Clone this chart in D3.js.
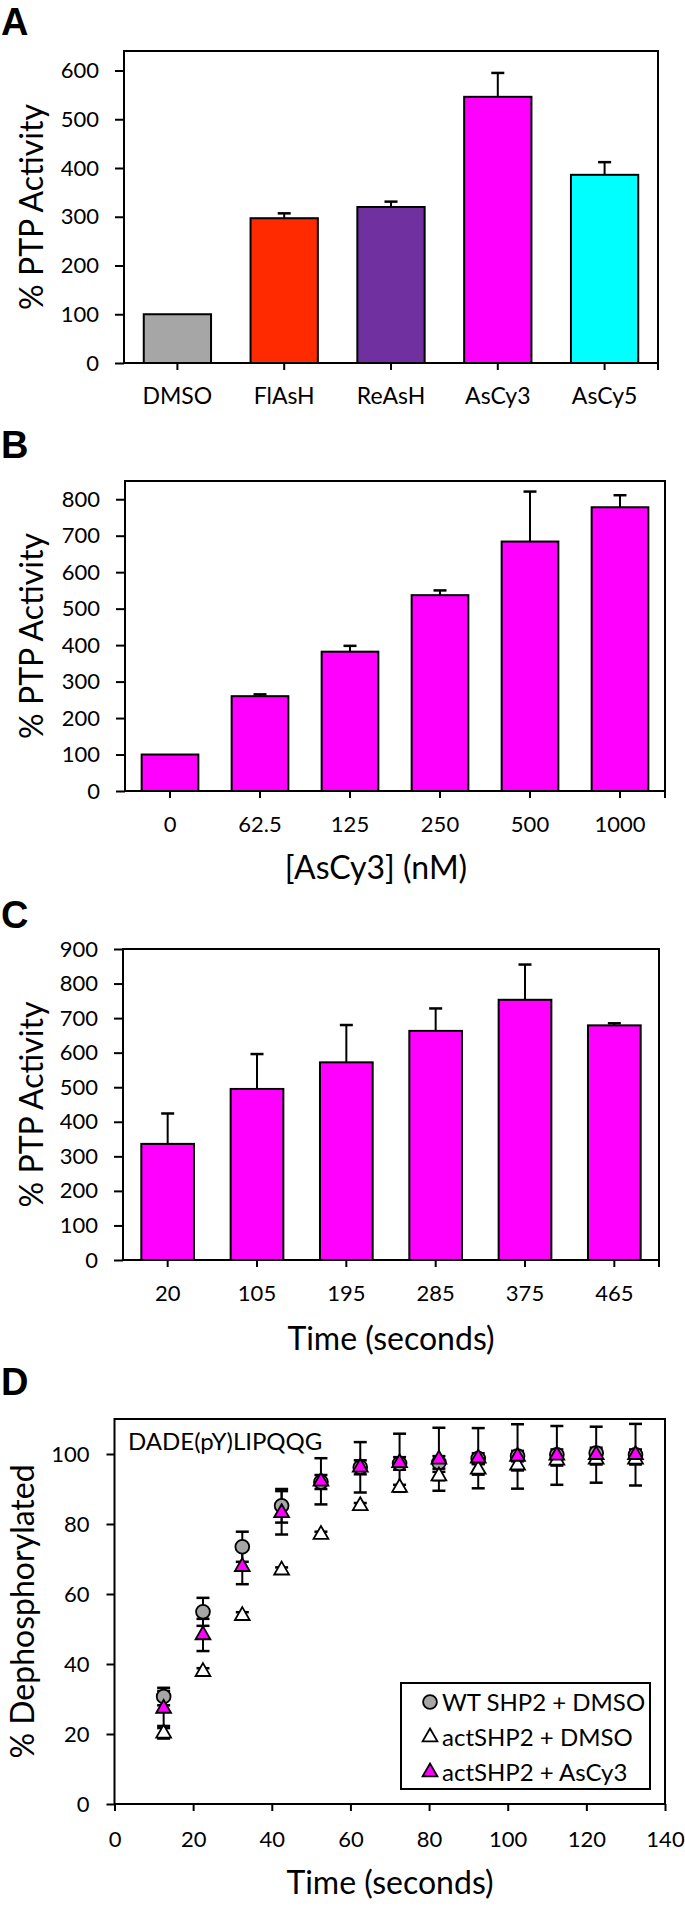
<!DOCTYPE html>
<html>
<head>
<meta charset="utf-8">
<script src="https://cdnjs.cloudflare.com/ajax/libs/d3/7.8.5/d3.min.js"></script>
<style>
  body { margin: 0; background: #fff; }
  svg { display: block; font-family: Lato, "Open Sans", sans-serif; }
  .tick text { fill: #000; }
</style>
</head>
<body>
<script>
// ---- data ----
var panelACategories = ["DMSO", "FlAsH", "ReAsH", "AsCy3", "AsCy5"];
var panelAValues = [100, 297, 320, 546, 386];
var panelAErrors = [0, 10, 11, 49, 26];
var panelATicks = [0, 100, 200, 300, 400, 500, 600];

var panelBCategories = ["0", "62.5", "125", "250", "500", "1000"];
var panelBValues = [100, 260, 382, 537, 684, 778];
var panelBErrors = [0, 5, 16, 13, 137, 33];
var panelBTicks = [0, 100, 200, 300, 400, 500, 600, 700, 800];

var panelCCategories = ["20", "105", "195", "285", "375", "465"];
var panelCValues = [336, 495, 572, 663, 753, 679];
var panelCErrors = [88, 101, 108, 65, 102, 6];
var panelCTicks = [0, 100, 200, 300, 400, 500, 600, 700, 800, 900];

var timePoints = [12.5, 22.5, 32.5, 42.5, 52.5, 62.5, 72.5, 82.5, 92.5, 102.5, 112.5, 122.5, 132.5];
var wtDmsoValues = [30.7, 54.9, 73.5, 85.2, 92.0, 96.2, 97.3, 97.6, 98.7, 99.4, 99.8, 100.3, 99.8];
var wtDmsoErrors = [2.5, 4.0, 4.3, 4.8, 2.0, 2.0, 1.8, 1.8, 1.5, 1.5, 1.5, 1.5, 1.5];
var actDmsoValues = [20.2, 37.8, 53.8, 66.8, 77.0, 85.2, 90.4, 93.7, 95.6, 96.8, 98.2, 98.5, 98.5];
var actDmsoErrors = [1.5, 1.0, 1.0, 0.8, 0.8, 0.8, 0.8, 1.2, 1.5, 1.5, 1.5, 1.5, 1.5];
var actAsCy3Values = [27.3, 48.3, 67.8, 83.2, 92.2, 96.2, 97.5, 98.5, 98.8, 99.3, 99.6, 99.8, 99.8];
var actAsCy3Errors = [5.0, 4.6, 5.0, 6.2, 6.6, 7.2, 8.3, 9.0, 8.6, 9.2, 8.4, 8.0, 8.8];
var panelDXTicks = [0, 20, 40, 60, 80, 100, 120, 140];
var panelDYTicks = [0, 20, 40, 60, 80, 100];
var legendLabels = ["WT SHP2 + DMSO", "actSHP2 + DMSO", "actSHP2 + AsCy3"];

var barColorsA = ["#a6a6a6", "#ff2a00", "#7030a0", "#ff00ff", "#00ffff"];
var magenta = "#ff00ff";

var svg = d3.select("body").append("svg")
  .attr("width", 685)
  .attr("height", 1907);

function panelLetter(letter, y) {
  svg.append("text")
    .attr("x", 1).attr("y", y)
    .attr("font-family", "'Liberation Sans', Arial, sans-serif")
    .attr("font-weight", "bold")
    .attr("font-size", 38)
    .text(letter);
}

function yTitle(text, x, y) {
  svg.append("text")
    .attr("transform", "translate(" + x + "," + y + ") rotate(-90)")
    .attr("text-anchor", "middle")
    .attr("font-size", 32)
    .text(text);
}

function barPanel(opt) {
  var x = d3.scaleBand().domain(opt.categories).range([opt.left, opt.right]).paddingInner(opt.pad).paddingOuter(opt.pad / 2);
  var y = d3.scaleLinear().domain([0, opt.yMax]).range([opt.bottom, opt.top]);

  // y axis
  var ya = svg.append("g")
    .attr("transform", "translate(" + opt.left + ",0)")
    .call(d3.axisLeft(y).tickValues(opt.ticks).tickSize(9).tickPadding(16).tickSizeOuter(0));
  ya.select(".domain").remove();
  ya.selectAll("line").attr("stroke-width", 2);
  ya.selectAll("text").attr("font-size", 22).attr("font-family", "Lato");

  // x axis
  var xa = svg.append("g")
    .attr("transform", "translate(0," + opt.bottom + ")")
    .call(d3.axisBottom(x).tickSize(7).tickSizeOuter(0));
  xa.select(".domain").remove();
  xa.selectAll("line").attr("stroke-width", 2);
  xa.selectAll("text").attr("font-size", opt.labelSize).attr("font-family", "Lato")
    .attr("y", 41).attr("dy", null);
  svg.append("line")
    .attr("x1", opt.right).attr("x2", opt.right)
    .attr("y1", opt.bottom).attr("y2", opt.bottom + 7)
    .attr("stroke", "#000").attr("stroke-width", 2);

  var rows = opt.categories.map(function(c, i) {
    return { cat: c, value: opt.values[i], err: opt.errors[i], color: opt.colors[i % opt.colors.length] };
  });

  // error bars (upper only)
  var eb = svg.append("g").selectAll("g").data(rows.filter(function(d) { return d.err > 0; }))
    .enter().append("g");
  eb.append("line")
    .attr("x1", function(d) { return x(d.cat) + x.bandwidth() / 2; })
    .attr("x2", function(d) { return x(d.cat) + x.bandwidth() / 2; })
    .attr("y1", function(d) { return y(d.value); })
    .attr("y2", function(d) { return y(d.value + d.err); })
    .attr("stroke", "#000").attr("stroke-width", 2);
  eb.append("line")
    .attr("x1", function(d) { return x(d.cat) + x.bandwidth() / 2 - 6.5; })
    .attr("x2", function(d) { return x(d.cat) + x.bandwidth() / 2 + 6.5; })
    .attr("y1", function(d) { return y(d.value + d.err); })
    .attr("y2", function(d) { return y(d.value + d.err); })
    .attr("stroke", "#000").attr("stroke-width", 2.5);

  svg.append("g").selectAll("rect").data(rows).enter().append("rect")
    .attr("x", function(d) { return x(d.cat); })
    .attr("width", x.bandwidth())
    .attr("y", function(d) { return y(d.value); })
    .attr("height", function(d) { return opt.bottom - y(d.value); })
    .attr("fill", function(d) { return d.color; })
    .attr("stroke", "#000").attr("stroke-width", 2);

  // frame
  svg.append("rect")
    .attr("x", opt.left).attr("y", opt.top)
    .attr("width", opt.right - opt.left).attr("height", opt.bottom - opt.top)
    .attr("fill", "none").attr("stroke", "#000").attr("stroke-width", 2);

  yTitle("% PTP Activity", 43, (opt.top + opt.bottom) / 2);
  if (opt.xTitle) {
    svg.append("text")
      .attr("x", opt.xTitleX).attr("y", opt.xTitleY)
      .attr("text-anchor", "middle").attr("font-size", 32)
      .text(opt.xTitle);
  }
}

// ---- A ----
panelLetter("A", 35);
barPanel({
  categories: panelACategories, values: panelAValues, errors: panelAErrors, colors: barColorsA,
  ticks: panelATicks, yMax: 640, left: 124, right: 658, top: 51, bottom: 363, pad: 0.37, labelSize: 23
});

// ---- B ----
panelLetter("B", 458);
barPanel({
  categories: panelBCategories, values: panelBValues, errors: panelBErrors, colors: [magenta],
  ticks: panelBTicks, yMax: 850, left: 125, right: 665, top: 481, bottom: 791, pad: 0.37, labelSize: 22,
  xTitle: "[AsCy3] (nM)", xTitleX: 376, xTitleY: 879
});

// ---- C ----
panelLetter("C", 928);
barPanel({
  categories: panelCCategories, values: panelCValues, errors: panelCErrors, colors: [magenta],
  ticks: panelCTicks, yMax: 900, left: 123, right: 659, top: 949, bottom: 1260, pad: 0.41, labelSize: 22,
  xTitle: "Time (seconds)", xTitleX: 391, xTitleY: 1350
});

// ---- D ----
panelLetter("D", 1395);
var dLeft = 114.5, dRight = 665, dTop = 1419, dBottom = 1804;
var xD = d3.scaleLinear().domain([0, 140]).range([dLeft, dRight]);
var yD = d3.scaleLinear().domain([0, 110]).range([dBottom, dTop]);

var yaD = svg.append("g").attr("transform", "translate(" + dLeft + ",0)")
  .call(d3.axisLeft(yD).tickValues(panelDYTicks).tickSize(8).tickPadding(17).tickSizeOuter(0));
yaD.select(".domain").remove();
yaD.selectAll("line").attr("stroke-width", 2);
yaD.selectAll("text").attr("font-size", 22).attr("font-family", "Lato");

var xaD = svg.append("g").attr("transform", "translate(0," + dBottom + ")")
  .call(d3.axisBottom(xD).tickValues(panelDXTicks).tickSize(7).tickSizeOuter(0));
xaD.select(".domain").remove();
xaD.selectAll("line").attr("stroke-width", 2);
xaD.selectAll("text").attr("font-size", 22).attr("font-family", "Lato").attr("y", 43).attr("dy", null);

svg.append("rect")
  .attr("x", dLeft).attr("y", dTop)
  .attr("width", dRight - dLeft).attr("height", dBottom - dTop)
  .attr("fill", "none").attr("stroke", "#000").attr("stroke-width", 2);

var series = [
  { name: legendLabels[0], values: wtDmsoValues, errors: wtDmsoErrors, shape: d3.symbolCircle, size: 150, fill: "#a6a6a6" },
  { name: legendLabels[1], values: actDmsoValues, errors: actDmsoErrors, shape: d3.symbolTriangle, size: 95, fill: "#ffffff" },
  { name: legendLabels[2], values: actAsCy3Values, errors: actAsCy3Errors, shape: d3.symbolTriangle, size: 95, fill: magenta }
];

series.forEach(function(s) {
  var pts = timePoints.map(function(t, i) { return { t: t, v: s.values[i], e: s.errors[i] }; });
  var g = svg.append("g");
  g.selectAll(".ev").data(pts).enter().append("line")
    .attr("x1", function(d) { return xD(d.t); }).attr("x2", function(d) { return xD(d.t); })
    .attr("y1", function(d) { return yD(d.v - d.e); }).attr("y2", function(d) { return yD(d.v + d.e); })
    .attr("stroke", "#000").attr("stroke-width", 2);
  [-1, 1].forEach(function(sign) {
    g.selectAll(".ec" + sign).data(pts).enter().append("line")
      .attr("x1", function(d) { return xD(d.t) - 6.5; }).attr("x2", function(d) { return xD(d.t) + 6.5; })
      .attr("y1", function(d) { return yD(d.v + sign * d.e); }).attr("y2", function(d) { return yD(d.v + sign * d.e); })
      .attr("stroke", "#000").attr("stroke-width", 2.5);
  });
});

series.forEach(function(s) {
  var pts = timePoints.map(function(t, i) { return { t: t, v: s.values[i] }; });
  svg.append("g").selectAll("path").data(pts).enter().append("path")
    .attr("d", d3.symbol().type(s.shape).size(s.size))
    .attr("transform", function(d) { return "translate(" + xD(d.t) + "," + yD(d.v) + ")"; })
    .attr("fill", s.fill).attr("stroke", "#000").attr("stroke-width", 1.8);
});

svg.append("text").attr("x", 128).attr("y", 1450).attr("font-size", 24).text("DADE(pY)LIPQQG");

// legend
var legend = svg.append("g");
legend.append("rect").attr("x", 401).attr("y", 1683).attr("width", 249).attr("height", 106)
  .attr("fill", "#fff").attr("stroke", "#000").attr("stroke-width", 2);
series.forEach(function(s, i) {
  var cy = 1702 + i * 35;
  legend.append("path")
    .attr("d", d3.symbol().type(s.shape).size(s.size))
    .attr("transform", "translate(430," + cy + ")")
    .attr("fill", s.fill).attr("stroke", "#000").attr("stroke-width", 1.8);
  legend.append("text").attr("x", 442).attr("y", cy + 8.5).attr("font-size", 24).text(s.name);
});

yTitle("% Dephosphorylated", 34, (dTop + dBottom) / 2);
svg.append("text").attr("x", 390).attr("y", 1894).attr("text-anchor", "middle").attr("font-size", 32)
  .text("Time (seconds)");
</script>
</body>
</html>
